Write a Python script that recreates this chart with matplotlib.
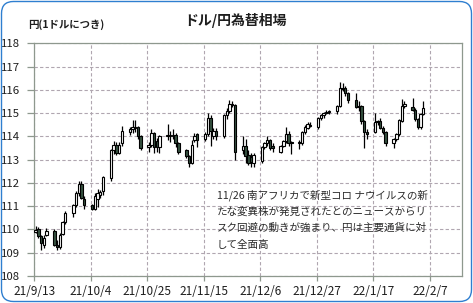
import numpy as np
import pandas as pd
import matplotlib
matplotlib.use('Agg')
import matplotlib.pyplot as plt
import matplotlib.dates as mdates
from matplotlib.patches import FancyBboxPatch
from matplotlib.transforms import IdentityTransform

plt.rcParams['font.family'] = ['Noto Sans CJK JP', 'DejaVu Sans']

# daily USD/JPY candles, 2021-09-13 .. 2022-02-04 (weekdays)
dates = pd.bdate_range('2021-09-13', '2022-02-04')
opens = [109.90, 110.00, 109.70, 109.35, 109.75, 109.95, 109.35, 109.25, 109.80, 110.30,
         110.70, 111.05, 111.55, 111.95, 111.30, 111.05, 110.90, 111.30, 111.50, 111.65,
         112.20, 113.40, 113.65, 113.30, 113.70, 114.20, 114.30, 114.40, 114.40, 114.00,
         113.55, 113.65, 114.15, 113.80, 113.55, 114.00, 114.05, 114.00, 114.05, 113.70,
         113.40, 113.15, 112.85, 113.85, 114.10, 113.90, 114.10, 114.80, 114.00, 114.25,
         114.00, 114.90, 115.10, 115.40, 115.35, 113.40, 113.60, 113.20, 113.10, 112.85,
         112.95, 113.55, 113.70, 113.85, 113.60, 113.35, 113.60, 113.80, 114.10, 113.75,
         113.70, 113.70, 114.20, 114.35, 114.50, 114.40, 114.80, 114.90, 115.00, 115.05,
         115.10, 115.30, 116.10, 116.10, 115.85, 115.55, 115.25, 115.30, 114.65, 114.20,
         114.20, 114.60, 114.65, 114.35, 114.20, 113.70, 113.90, 114.10, 114.65, 115.30,
         115.25, 115.15, 114.75, 114.40, 114.95]
highs = [110.15, 110.10, 109.75, 109.75, 110.05, 110.00, 109.55, 109.85, 110.35, 110.80,
         111.10, 111.65, 112.10, 112.10, 111.45, 111.10, 111.55, 111.75, 111.70, 112.30,
         113.45, 113.80, 113.75, 113.75, 114.45, 114.40, 114.70, 114.70, 114.45, 114.05,
         113.75, 114.30, 114.20, 113.95, 114.05, 114.55, 114.25, 114.30, 114.15, 113.75,
         113.45, 113.20, 113.85, 114.15, 114.15, 114.20, 115.00, 114.90, 114.35, 114.35,
         114.95, 115.20, 115.55, 115.50, 115.40, 114.00, 113.90, 113.40, 113.30, 113.30,
         113.60, 113.75, 114.00, 113.90, 113.70, 113.65, 113.85, 114.40, 114.25, 113.80,
         113.85, 114.25, 114.50, 114.60, 114.60, 114.85, 114.95, 115.05, 115.15, 115.15,
         115.35, 116.35, 116.30, 116.15, 115.90, 115.85, 115.50, 115.35, 114.70, 114.30,
         115.00, 114.70, 114.80, 114.45, 114.25, 113.95, 114.15, 114.75, 115.60, 115.50,
         115.65, 115.20, 114.80, 115.00, 115.50]
lows = [109.85, 109.65, 109.12, 109.20, 109.70, 109.30, 109.10, 109.15, 109.75, 110.25,
        110.55, 110.95, 111.45, 111.30, 110.90, 110.85, 110.85, 110.95, 111.35, 111.50,
        112.10, 113.25, 113.20, 113.25, 113.60, 114.05, 114.15, 114.20, 113.90, 113.40,
        113.35, 113.55, 113.30, 113.35, 113.30, 113.85, 113.75, 113.90, 113.55, 113.25,
        113.05, 112.70, 112.80, 113.75, 113.55, 113.80, 114.00, 113.60, 113.90, 113.85,
        113.95, 114.75, 115.00, 115.25, 113.00, 113.25, 112.85, 112.75, 112.70, 112.70,
        112.85, 113.45, 113.60, 113.40, 113.35, 113.30, 113.55, 113.70, 113.60, 113.25,
        113.45, 113.65, 114.10, 114.30, 114.40, 114.30, 114.70, 114.80, 114.95, 114.95,
        114.95, 115.25, 115.95, 115.75, 115.45, 115.20, 115.10, 114.55, 113.50, 113.90,
        114.15, 114.50, 114.30, 114.10, 113.60, 113.50, 113.80, 114.00, 114.60, 115.20,
        115.10, 114.65, 114.30, 114.30, 114.90]
closes = [109.98, 109.70, 109.40, 109.65, 109.95, 109.35, 109.25, 109.75, 110.30, 110.72,
          111.05, 111.55, 111.95, 111.35, 111.05, 110.90, 111.45, 111.55, 111.60, 112.25,
          113.40, 113.65, 113.30, 113.65, 114.25, 114.30, 114.40, 114.35, 114.00, 113.50,
          113.65, 114.15, 113.55, 113.55, 114.00, 114.05, 114.00, 114.05, 113.70, 113.35,
          113.15, 112.85, 113.65, 114.00, 113.85, 114.10, 114.80, 114.25, 114.25, 114.00,
          114.90, 115.10, 115.40, 115.35, 113.35, 113.60, 113.15, 112.85, 112.90, 113.20,
          113.55, 113.70, 113.85, 113.50, 113.50, 113.60, 113.80, 114.10, 113.70, 113.70,
          113.75, 114.20, 114.40, 114.55, 114.45, 114.80, 114.90, 115.00, 115.05, 115.10,
          115.30, 116.10, 116.05, 115.85, 115.55, 115.25, 115.30, 114.65, 114.20, 114.10,
          114.60, 114.65, 114.35, 114.20, 113.70, 113.90, 114.10, 114.70, 115.30, 115.40,
          115.15, 114.75, 114.40, 114.95, 115.20]

tick_dates = pd.date_range('2021-09-13', '2022-02-07', freq='21D')
tick_labels = ['21/9/13', '21/10/4', '21/10/25', '21/11/15',
               '21/12/6', '21/12/27', '22/1/17', '22/2/7']

note_lines = ['11/26 南アフリカで新型コロ ナウイルスの新',
              'たな変異株が発見されたとのニュースからリ',
              'スク回避の動きが強まり、円は主要通貨に対',
              'して全面高']

C_DOWN = '#34503f'
C_GRID = '#b0a6b0'
C_FRAME = '#8e988e'
C_TEXT = '#1e1e1e'

fig = plt.figure(figsize=(4.73, 3.03), dpi=100)
ax = fig.add_axes([34.3 / 473, 1 - 276 / 303, (462.3 - 34.3) / 473, (276 - 43.3) / 303])

x = mdates.date2num(dates) + 0.5
o, h, l, c = map(np.array, (opens, highs, lows, closes))
up = c >= o

ax.vlines(x, l, h, color='black', linewidth=0.9, zorder=2)
ax.bar(x[up], (c - o)[up], bottom=o[up], width=0.9, facecolor='white',
       edgecolor='black', linewidth=0.8, zorder=3)
ax.bar(x[~up], (o - c)[~up], bottom=c[~up], width=0.9, facecolor=C_DOWN,
       edgecolor='black', linewidth=0.8, zorder=3)

x0 = mdates.date2num(pd.Timestamp('2021-09-13'))
ax.set_xlim(x0, x0 + 159)
ax.set_ylim(108, 118)
ax.set_xticks(mdates.date2num(tick_dates))
ax.set_xticklabels(tick_labels)
ax.set_yticks(np.arange(108, 119, 1))

ax.grid(True, color=C_GRID, linestyle=(0, (3, 2)), linewidth=0.8, zorder=0)
for s in ax.spines.values():
    s.set_color(C_FRAME)
    s.set_linewidth(0.9)
ax.tick_params(axis='y', direction='out', length=5, width=0.9, color=C_FRAME,
               pad=5, labelsize=8.2, labelcolor=C_TEXT)
ax.tick_params(axis='x', direction='out', length=3.5, width=0.9, color=C_FRAME,
               pad=3, labelsize=8.5, labelcolor=C_TEXT)

fig.text(235 / 473, 1 - 20 / 303, 'ドル/円為替相場', ha='center', va='center',
         fontsize=10, fontweight='bold', color=C_TEXT)
fig.text(28 / 473, 1 - 25 / 303, '円(1ドルにつき)', ha='left', va='center',
         fontsize=7.5, fontweight='bold', color=C_TEXT)

for i, line in enumerate(note_lines):
    fig.text(217 / 473, 1 - (195 + i * 16.6) / 303, line, ha='left', va='center',
             fontsize=7.6, color='#2a2a2a')

border = FancyBboxPatch((1.5, 1.5), 470, 300, boxstyle='round,pad=0,rounding_size=12',
                        transform=IdentityTransform(), facecolor='none',
                        edgecolor='#2f7fd0', linewidth=1.0)
fig.patches.append(border)

fig.savefig('out.png', dpi=100, facecolor='white')
